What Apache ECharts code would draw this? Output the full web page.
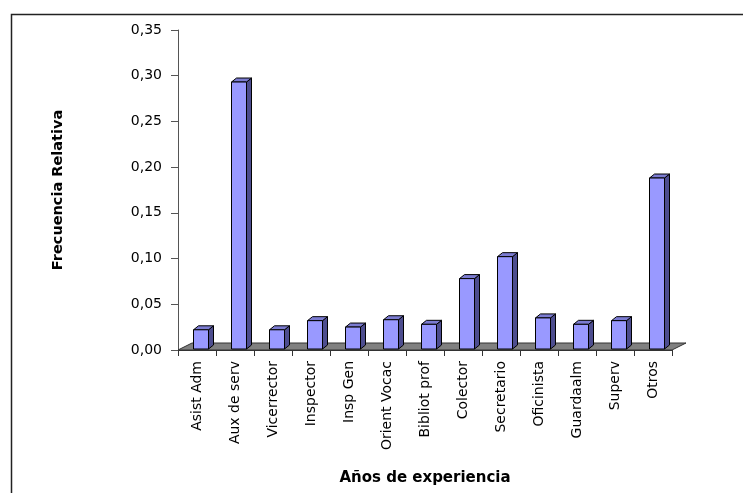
<!DOCTYPE html>
<html><head><meta charset="utf-8">
<script src="https://cdn.jsdelivr.net/npm/echarts@6/dist/echarts.min.js"></script>
<style>html,body{margin:0;padding:0;background:#fff}#c{width:743px;height:493px}</style>
</head><body><div id="c"></div>
<script>
const categories = ['Asist Adm','Aux de serv','Vicerrector','Inspector','Insp Gen','Orient Vocac','Bibliot prof','Colector','Secretario','Oficinista','Guardaalm','Superv','Otros'];
const values = [0.021, 0.292, 0.021, 0.031, 0.024, 0.032, 0.027, 0.077, 0.101, 0.034, 0.027, 0.031, 0.187];
const yMin = 0, yMax = 0.35, yStep = 0.05;
const xTitle = 'Años de experiencia';
const yTitle = 'Frecuencia Relativa';

const FONT = 'DejaVu Sans';
const chart = echarts.init(document.getElementById('c'), null, {renderer: 'canvas'});

function renderFloor(params, api) {
  const band = api.size([1, 0])[0];
  const a = api.coord([0, 0]);
  const b = api.coord([categories.length - 1, 0]);
  const x0 = a[0] - band / 2, x1 = b[0] + band / 2, y = a[1];
  const dx = 14, dy = -7;
  return {
    type: 'polygon',
    shape: {points: [[x0, y], [x1, y], [x1 + dx, y + dy], [x0 + dx, y + dy]]},
    style: {fill: '#808080', stroke: '#333', lineWidth: 1}
  };
}

function renderBar(params, api) {
  const idx = api.value(0), v = api.value(1);
  const top = api.coord([idx, v]);
  const base = api.coord([idx, 0]);
  const cx = top[0];
  const x0 = cx - 3.5, x1 = cx + 11.5;
  const yb = base[1] - 1, yt = top[1] - 1;
  const dx = 5, dy = -4;
  return {
    type: 'group',
    children: [
      {type: 'polygon', shape: {points: [[x1, yt], [x1 + dx, yt + dy], [x1 + dx, yb + dy], [x1, yb]]},
       style: {fill: '#4d4d8f', stroke: '#000', lineWidth: 1}},
      {type: 'polygon', shape: {points: [[x0, yt], [x0 + dx, yt + dy], [x1 + dx, yt + dy], [x1, yt]]},
       style: {fill: '#7b7bd1', stroke: '#000', lineWidth: 1}},
      {type: 'rect', shape: {x: x0, y: yt, width: x1 - x0, height: yb - yt},
       style: {fill: '#9999ff', stroke: '#000', lineWidth: 1}}
    ]
  };
}

chart.setOption({
  backgroundColor: '#fff',
  animation: false,
  graphic: [{
    type: 'rect', left: 9, top: 12, z: -10,
    shape: {width: 800, height: 600},
    style: {fill: 'none', stroke: '#222', lineWidth: 1.5}
  }],
  grid: {left: 178, right: 71, top: 30, bottom: 143, containLabel: false},
  xAxis: {
    type: 'category',
    data: categories,
    boundaryGap: true,
    name: xTitle,
    nameLocation: 'middle',
    nameGap: 121,
    nameTextStyle: {fontFamily: FONT, fontWeight: 'bold', fontSize: 15, color: '#000'},
    axisLine: {show: true, lineStyle: {color: '#333', width: 1}},
    axisTick: {show: true, length: 6, interval: 0, lineStyle: {color: '#333'}},
    axisLabel: {rotate: 90, interval: 0, margin: 11, fontFamily: FONT, fontSize: 14, color: '#000'},
    splitLine: {show: false}
  },
  yAxis: {
    type: 'value',
    min: yMin, max: yMax, interval: yStep,
    name: yTitle,
    nameLocation: 'middle',
    nameGap: 112,
    nameRotate: 90,
    nameTextStyle: {fontFamily: FONT, fontWeight: 'bold', fontSize: 14.5, color: '#000'},
    axisLine: {show: true, lineStyle: {color: '#555', width: 1}},
    axisTick: {show: true, length: 7, lineStyle: {color: '#555'}},
    axisLabel: {margin: 16, fontFamily: FONT, fontSize: 14, color: '#000',
      formatter: v => v.toFixed(2).replace('.', ',')},
    splitLine: {show: false}
  },
  series: [
    {type: 'custom', renderItem: renderFloor, data: [[0, 0]], z: 1, silent: true},
    {type: 'custom', renderItem: renderBar, data: values.map((v, i) => [i, v]), z: 2,
     encode: {x: 0, y: 1}}
  ]
});
</script></body></html>
